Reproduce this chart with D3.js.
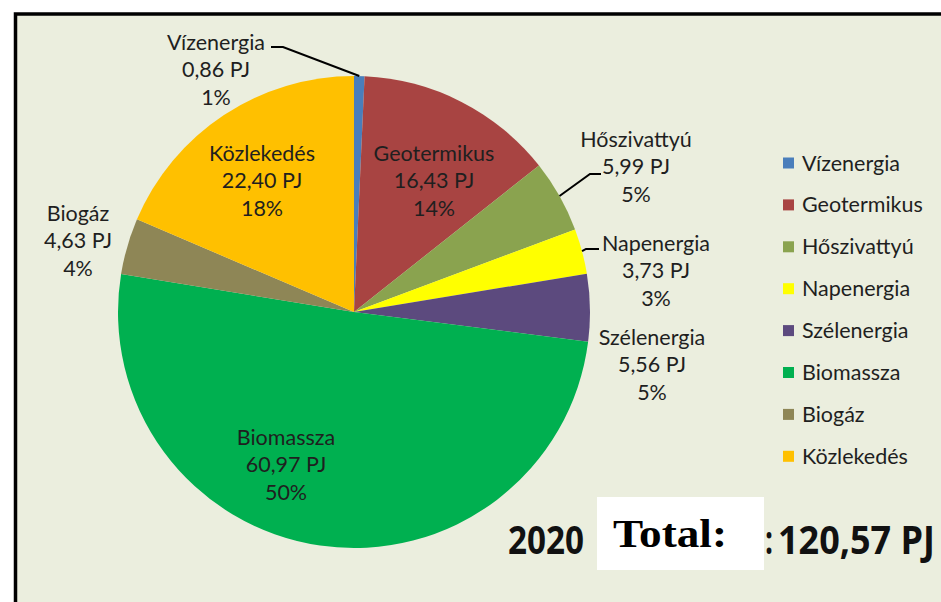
<!DOCTYPE html>
<html><head><meta charset="utf-8">
<script src="https://cdn.jsdelivr.net/npm/d3@7"></script>
<style>
html,body{margin:0;padding:0;background:#fff;}
svg{display:block;}
</style></head>
<body>
<script>
// ---- data ----
const categories = ["Vízenergia","Geotermikus","Hőszivattyú","Napenergia","Szélenergia","Biomassza","Biogáz","Közlekedés"];
const valuesPJ   = [0.86, 16.43, 5.99, 3.73, 5.56, 60.97, 4.63, 22.40];
const valueLabels = ["0,86 PJ","16,43 PJ","5,99 PJ","3,73 PJ","5,56 PJ","60,97 PJ","4,63 PJ","22,40 PJ"];
const percentLabels = ["1%","14%","5%","3%","5%","50%","4%","18%"];
const totalYear = "2020";
const totalLabel = "Total:";
const totalValue = "120,57 PJ";

// ---- styles / layout ----
const colors = ["#4A7EBB","#A84442","#8AA34F","#FFFF00","#5C4A7E","#00B050","#8E8656","#FFC000"];
const W = 941, H = 602;
const cx = 354, cy = 312, R = 236;
const font = "Lato, 'Open Sans', sans-serif";
const fs = 21.5;
// label anchor (center x, first-line middle y) and optional leader elbow
const labelLayout = {
  "Vízenergia":  {x:216, y:42, leader:{ex:283, ey:47, tx:271}},
  "Geotermikus": {x:434, y:153},
  "Hőszivattyú": {x:636, y:139, leader:{ex:590, ey:174, tx:601}},
  "Napenergia":  {x:656, y:243, leader:{ex:586, ey:249, tx:599}},
  "Szélenergia": {x:652, y:337},
  "Biomassza":   {x:286, y:437},
  "Biogáz":      {x:78,  y:213},
  "Közlekedés":  {x:262, y:153}
};
const lineH = 27.8;

const svg = d3.select("body").append("svg").attr("width",W).attr("height",H);

// frame
svg.append("rect").attr("x",0).attr("y",0).attr("width",W).attr("height",H).attr("fill","#ffffff");
svg.append("rect").attr("x",15.5).attr("y",14).attr("width",W+20).attr("height",H+20)
  .attr("fill","#EBEEDE").attr("stroke","#000").attr("stroke-width",3.5);

const data = categories.map((c,i)=>({name:c, value:valuesPJ[i], vl:valueLabels[i], pl:percentLabels[i], color:colors[i]}));

const pie = d3.pie().value(d=>d.value).sort(null).startAngle(0).endAngle(2*Math.PI);
const arcs = pie(data);
const arc = d3.arc().innerRadius(0).outerRadius(R);

const g = svg.append("g").attr("transform",`translate(${cx},${cy})`);
g.selectAll("path").data(arcs).join("path")
  .attr("d",arc).attr("fill",d=>d.data.color);

// leader lines
arcs.forEach(a=>{
  const L = labelLayout[a.data.name];
  if(!L.leader) return;
  const mid = (a.startAngle+a.endAngle)/2;
  const px = cx + R*Math.sin(mid), py = cy - R*Math.cos(mid);
  const pts = [[px,py],[L.leader.ex,L.leader.ey],[L.leader.tx,L.leader.ey]];
  svg.append("path").attr("d",d3.line()(pts)).attr("fill","none")
    .attr("stroke","#000").attr("stroke-width",2);
});

// labels
arcs.forEach(a=>{
  const L = labelLayout[a.data.name];
  const t = svg.append("text").attr("text-anchor","middle")
    .attr("font-family",font).attr("font-size",fs).attr("fill","#1f1f1f");
  [a.data.name, a.data.vl, a.data.pl].forEach((s,i)=>{
    t.append("tspan").attr("x",L.x).attr("y",L.y+i*lineH).attr("dy","0.35em").text(s);
  });
});

// legend
const lg = svg.append("g").attr("transform","translate(783,163)");
const rows = lg.selectAll("g").data(data).join("g")
  .attr("transform",(d,i)=>`translate(0,${i*41.9})`);
rows.append("rect").attr("x",0).attr("y",-5.5).attr("width",11).attr("height",11).attr("fill",d=>d.color);
rows.append("text").attr("x",19).attr("y",0).attr("dy","0.35em")
  .attr("font-family",font).attr("font-size",fs).attr("fill","#1f1f1f").text(d=>d.name);

// total text: fitted horizontally by scaling the group
function fitted(txt, x, y, width, family, size, color){
  const gg = svg.append("g");
  const t = gg.append("text").attr("x",0).attr("y",0).attr("font-family",family)
    .attr("font-weight",700).attr("font-size",size).attr("fill",color).text(txt);
  const w = t.node().getComputedTextLength();
  gg.attr("transform",`translate(${x},${y}) scale(${width/w},1)`);
  return gg;
}
fitted(totalYear, 508, 554, 76, "'Open Sans', sans-serif", 40, "#111");
svg.append("rect").attr("x",597).attr("y",497).attr("width",167).attr("height",73).attr("fill","#fff");
fitted(":", 765, 554, 8, "'Open Sans', sans-serif", 40, "#111");
fitted(totalValue, 778, 554, 157, "'Open Sans', sans-serif", 40, "#111");
fitted(totalLabel, 613, 547, 114, "'Liberation Serif', serif", 40, "#000");
</script>
</body></html>
